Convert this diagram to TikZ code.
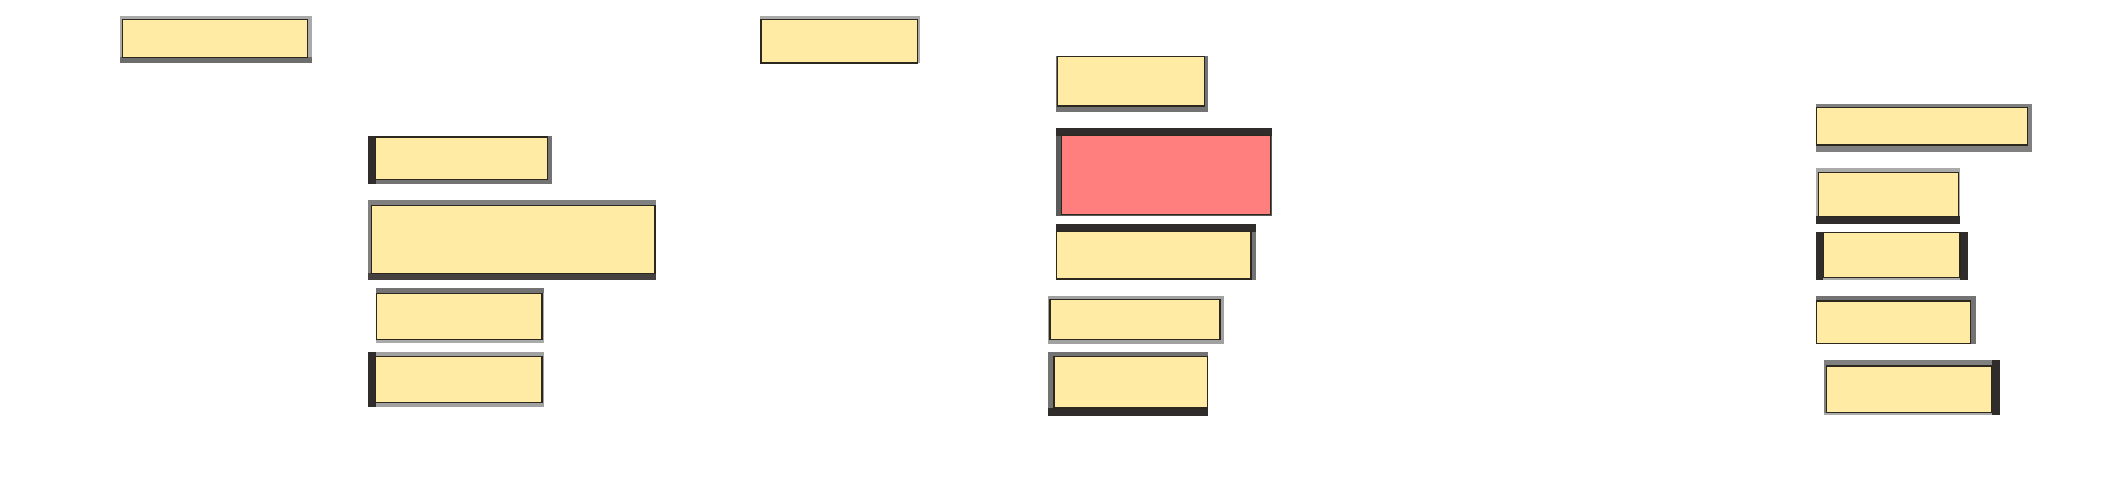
\documentclass[tikz,border=0pt]{standalone}
\usepackage{tikz}
\usetikzlibrary{positioning}
\definecolor{labelyellow}{RGB}{255,235,163}
\definecolor{labelred}{RGB}{255,127,127}
\definecolor{inkline}{RGB}{45,40,30}
\definecolor{paleframe}{RGB}{170,170,170}
\definecolor{midframe}{RGB}{128,128,128}
\definecolor{darkframe}{RGB}{48,44,44}
\begin{document}
\begin{tikzpicture}[x=1pt,y=-1pt,
    blank/.style={fill=labelyellow,draw=inkline,line width=1.4pt},
    hotblank/.style={fill=labelred,draw=inkline,line width=1.4pt}]
                \useasboundingbox (0,0) rectangle (2118,488);
                % left column
                \fill[paleframe] (120,16) rectangle (312,63.3);
                \fill[midframe!85!black] (120,57.3) rectangle (312,63.3);
                \draw[blank] (122.3,19.3) rectangle (307.7,57.3);
                \fill[midframe!110] (368,136) rectangle (552,183.7);
                \fill[darkframe] (368,136) rectangle (375.7,183.7);
                \draw[blank] (375.7,137) rectangle (547.7,179.3);
                \fill[midframe] (368,200) rectangle (656,280);
                \fill[darkframe!90!white] (368,273.3) rectangle (656,280);
                \draw[blank] (371.3,205.3) rectangle (655,273.3);
                \fill[paleframe] (376,288.3) rectangle (544,343.3);
                \fill[midframe!90!black] (376,288.3) rectangle (544,293.3);
                \draw[blank] (376.7,293.3) rectangle (542,339.3);
                \fill[paleframe!95!black] (368,351.7) rectangle (544,407.3);
                \fill[darkframe] (368,351.7) rectangle (375.7,407.3);
                \draw[blank] (375.7,356.7) rectangle (542,402.7);
                % middle column
                \fill[paleframe] (760,16) rectangle (920,63.3);
                \draw[blank] (761,19.3) rectangle (917.3,63);
                \fill[midframe!110] (1056,56) rectangle (1208,111.7);
                \draw[blank] (1057.3,56.7) rectangle (1204.7,106);
                \fill[midframe!70!black] (1056,128.3) rectangle (1272,215.7);
                \fill[darkframe] (1056,128.3) rectangle (1272,135.7);
                \draw[hotblank] (1061.7,135.7) rectangle (1270.7,214.3);
                \fill[midframe!110] (1056,224) rectangle (1256,279.7);
                \fill[darkframe] (1056,224) rectangle (1256,231.7);
                \draw[blank] (1056.7,231.7) rectangle (1251,279);
                \fill[paleframe!110] (1048.3,296) rectangle (1223.7,343.7);
                \draw[blank] (1050,299.3) rectangle (1220,339.3);
                \fill[midframe!110] (1048.3,352.3) rectangle (1208,416);
                \fill[darkframe] (1048.3,408) rectangle (1208,416);
                \draw[blank] (1054,356.7) rectangle (1207.3,408);
                % right column
                \fill[midframe] (1816,104) rectangle (2031.7,151.7);
                \draw[blank] (1816.7,107.3) rectangle (2027.3,145);
                \fill[paleframe] (1816,168.3) rectangle (1960,223.7);
                \fill[darkframe] (1816,216.3) rectangle (1960,223.7);
                \draw[blank] (1818.7,172.3) rectangle (1958.7,216.3);
                \fill[paleframe] (1816,232) rectangle (1968,280);
                \fill[darkframe] (1816,232) rectangle (1823.3,280);
                \fill[darkframe] (1960,232) rectangle (1968,280);
                \draw[blank] (1823.3,232.7) rectangle (1960,277.7);
                \fill[midframe!110] (1816,296) rectangle (1975.7,344);
                \draw[blank] (1816.7,301) rectangle (1970.7,343.3);
                \fill[midframe] (1824,360) rectangle (2000,415.3);
                \fill[paleframe] (1824,412.7) rectangle (1991.7,415.3);
                \fill[darkframe] (1991.7,360) rectangle (2000,415.3);
                \draw[blank] (1826.3,366) rectangle (1991.7,412.7);
            \end{tikzpicture}
\end{document}
